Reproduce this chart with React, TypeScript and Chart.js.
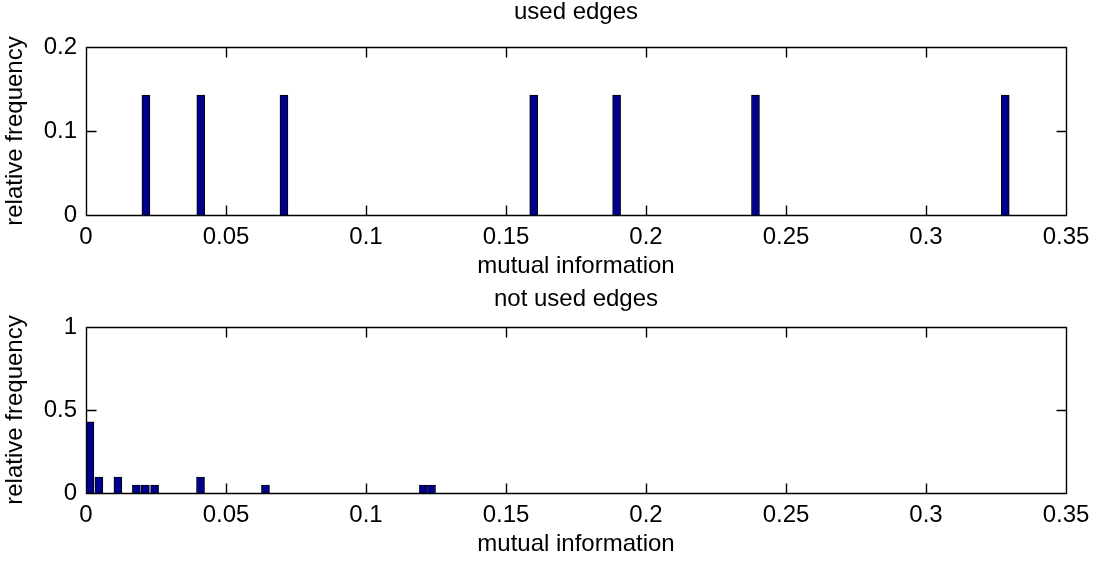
import React, { useEffect, useRef } from "react";
import { Chart, registerables } from "chart.js";

Chart.register(...registerables);

// ---- data ----
const usedX = [0.0214, 0.041, 0.0707, 0.1599, 0.1895, 0.2391, 0.3283];
const usedFreq = [0.1429, 0.1429, 0.1429, 0.1429, 0.1429, 0.1429, 0.1429];

const notUsedX = [0.0014, 0.0046, 0.0114, 0.018, 0.0212, 0.0245, 0.0409, 0.0641, 0.1205, 0.1234];
const notUsedFreq = [0.4286, 0.0952, 0.0952, 0.0476, 0.0476, 0.0476, 0.0952, 0.0476, 0.0476, 0.0476];

const xTickLabels = ["0", "0.05", "0.1", "0.15", "0.2", "0.25", "0.3", "0.35"];
const usedYTickLabels = ["0", "0.1", "0.2"];
const notUsedYTickLabels = ["0", "0.5", "1"];

const FONT = "'Liberation Sans', Arial, Helvetica, sans-serif";
const BAR_FILL = "#00008F";

const framePlugin = {
  id: "frame",
  afterDatasetsDraw(chart: any) {
    const { ctx, chartArea } = chart;
    const { left, right, top, bottom } = chartArea;
    const xs = chart.scales.x;
    const ys = chart.scales.y;
    const L = Math.round(left) + 0.5;
    const R = Math.round(right) + 0.5;
    const T = Math.round(top) + 0.5;
    const B = Math.round(bottom) + 0.5;
    ctx.save();
    ctx.strokeStyle = "#000";
    ctx.lineWidth = 1.4;
    ctx.beginPath();
    ctx.rect(L, T, R - L, B - T);
    const tl = 10;
    xs.ticks.forEach((t: any) => {
      const px = Math.round(xs.getPixelForValue(t.value)) + 0.5;
      ctx.moveTo(px, B);
      ctx.lineTo(px, B - tl);
      ctx.moveTo(px, T);
      ctx.lineTo(px, T + tl);
    });
    ys.ticks.forEach((t: any) => {
      const py = Math.round(ys.getPixelForValue(t.value)) + 0.5;
      ctx.moveTo(L, py);
      ctx.lineTo(L + tl, py);
      ctx.moveTo(R, py);
      ctx.lineTo(R - tl, py);
    });
    ctx.stroke();
    ctx.restore();
  },
};

function makeConfig(opts: {
  title: string;
  xs: number[];
  ys: number[];
  yMax: number;
  yStep: number;
  yLabels: string[];
  topHeight: number;
  titlePadTop: number;
  titleLineHeight: number;
  xAxisHeight: number;
  xTitlePadBottom: number;
}): any {
  const font = { family: FONT, size: 24 };
  return {
    type: "bar",
    data: {
      datasets: [
        {
          data: opts.xs.map((x, i) => ({ x, y: opts.ys[i] })),
          backgroundColor: BAR_FILL,
          borderColor: "#000",
          borderWidth: 1,
          barThickness: 8,
        },
      ],
    },
    options: {
      animation: false,
      responsive: false,
      maintainAspectRatio: false,
      layout: { padding: { left: 0, right: 28, top: 0, bottom: 0 } },
      plugins: {
        legend: { display: false },
        tooltip: { enabled: false },
        title: { display: false },
      },
      scales: {
        x: {
          type: "linear",
          min: 0,
          max: 0.35,
          offset: false,
          grid: { display: false, drawTicks: false },
          border: { display: false },
          ticks: {
            stepSize: 0.05,
            padding: 8,
            color: "#000",
            font,
            maxRotation: 0,
            autoSkip: false,
            callback: (_v: any, i: number) => xTickLabels[i],
          },
          title: {
            display: true,
            text: "mutual information",
            color: "#000",
            font: { ...font, lineHeight: 1.2 },
            padding: { top: 0, bottom: opts.xTitlePadBottom },
          },
          afterFit: (s: any) => {
            s.height = opts.xAxisHeight;
            s.paddingLeft = 0;
            s.paddingRight = 0;
          },
        },
        x2: {
          type: "linear",
          position: "top",
          min: 0,
          max: 0.35,
          offset: false,
          grid: { display: false, drawTicks: false },
          border: { display: false },
          ticks: { display: false },
          title: {
            display: true,
            text: opts.title,
            color: "#000",
            font: { ...font, lineHeight: opts.titleLineHeight },
            padding: { top: opts.titlePadTop, bottom: 0 },
          },
          afterFit: (s: any) => {
            s.height = opts.topHeight;
            s.paddingLeft = 0;
            s.paddingRight = 0;
          },
        },
        y: {
          min: 0,
          max: opts.yMax,
          grid: { display: false, drawTicks: false },
          border: { display: false },
          ticks: {
            stepSize: opts.yStep,
            padding: 9,
            color: "#000",
            font,
            callback: (_v: any, i: number) => opts.yLabels[i],
          },
          title: {
            display: true,
            text: "relative frequency",
            color: "#000",
            font: { ...font, lineHeight: 1.2 },
            padding: { top: 1, bottom: 0 },
          },
          afterFit: (s: any) => {
            s.width = 86;
            s.paddingTop = 0;
            s.paddingBottom = 0;
          },
        },
      },
    },
    plugins: [framePlugin],
  };
}

export default function App() {
  const topRef = useRef<HTMLCanvasElement>(null);
  const botRef = useRef<HTMLCanvasElement>(null);

  useEffect(() => {
    const c1 = new Chart(
      topRef.current!,
      makeConfig({
        title: "used edges",
        xs: usedX,
        ys: usedFreq,
        yMax: 0.2,
        yStep: 0.1,
        yLabels: usedYTickLabels,
        topHeight: 47,
        titlePadTop: 0,
        titleLineHeight: 1,
        xAxisHeight: 67,
        xTitlePadBottom: 1,
      })
    );
    const c2 = new Chart(
      botRef.current!,
      makeConfig({
        title: "not used edges",
        xs: notUsedX,
        ys: notUsedFreq,
        yMax: 1,
        yStep: 0.5,
        yLabels: notUsedYTickLabels,
        topHeight: 45,
        titlePadTop: 5,
        titleLineHeight: 1,
        xAxisHeight: 70,
        xTitlePadBottom: 4,
      })
    );
    return () => {
      c1.destroy();
      c2.destroy();
    };
  }, []);

  return (
    <div style={{ position: "absolute", left: 0, top: 0, width: 1094, height: 563, background: "#fff" }}>
      <canvas ref={topRef} width={1094} height={282} style={{ position: "absolute", left: 0, top: 0, width: 1094, height: 282 }} />
      <canvas ref={botRef} width={1094} height={281} style={{ position: "absolute", left: 0, top: 282, width: 1094, height: 281 }} />
    </div>
  );
}
